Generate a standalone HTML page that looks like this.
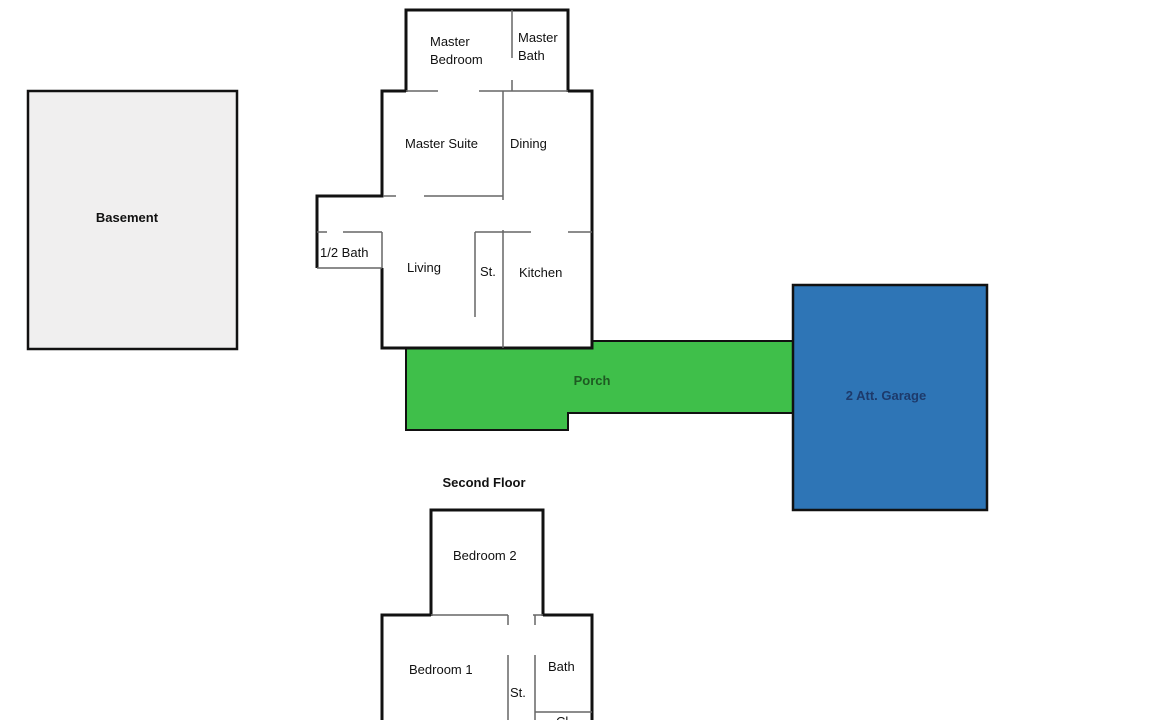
<!DOCTYPE html>
<html><head><meta charset="utf-8"><style>
html,body{margin:0;padding:0;background:#fff;width:1152px;height:720px;overflow:hidden}
svg{display:block}
text{font-family:"Liberation Sans","DejaVu Sans",sans-serif;font-size:13px;fill:#111}
</style></head><body>
<svg width="1152" height="720" viewBox="0 0 1152 720">
<!-- Basement -->
<rect x="28" y="91" width="209" height="258" fill="#f0efef" stroke="#111" stroke-width="2.5"/>
<text x="127" y="222" text-anchor="middle" font-weight="bold" font-size="12">Basement</text>

<!-- Porch -->
<polygon points="406,348 592,348 592,341 793,341 793,413 568,413 568,430 406,430" fill="#3fbf4a" stroke="#111" stroke-width="2"/>
<text x="592" y="385" text-anchor="middle" font-weight="bold" font-size="12" style="fill:#1e5a22">Porch</text>

<!-- Garage -->
<rect x="793" y="285" width="194" height="225" fill="#2e75b6" stroke="#111" stroke-width="2.5"/>
<text x="886" y="400" text-anchor="middle" font-weight="bold" font-size="12" style="fill:#1d3a6b">2 Att. Garage</text>

<!-- Main floor -->
<rect x="382" y="91" width="210" height="257" fill="#fff"/>
<rect x="317" y="196" width="66" height="72" fill="#fff"/>
<rect x="406" y="10" width="162" height="82" fill="#fff"/>
<g fill="none" stroke="#111" stroke-width="3">
<polyline points="406,92 406,10 568,10 568,92"/>
<polyline points="406,91 382,91 382,196 317,196 317,268"/>
<polyline points="568,91 592,91 592,348 382,348 382,268"/>
</g>
<g fill="none" stroke="#666" stroke-width="1.5">
<line x1="406" y1="91" x2="438" y2="91"/><line x1="479" y1="91" x2="568" y2="91"/>
<line x1="512" y1="10" x2="512" y2="58"/><line x1="512" y1="80" x2="512" y2="91"/>
<line x1="503" y1="91" x2="503" y2="200"/>
<line x1="383" y1="196" x2="396" y2="196"/><line x1="424" y1="196" x2="503" y2="196"/>
<line x1="317" y1="232" x2="327" y2="232"/><line x1="343" y1="232" x2="382" y2="232"/>
<line x1="317" y1="268" x2="382" y2="268"/><line x1="382" y1="232" x2="382" y2="268"/>
<line x1="475" y1="232" x2="531" y2="232"/><line x1="568" y1="232" x2="592" y2="232"/>
<line x1="475" y1="232" x2="475" y2="317"/>
<line x1="503" y1="230" x2="503" y2="348"/>
</g>
<text x="430" y="46">Master</text><text x="430" y="64">Bedroom</text>
<text x="518" y="42">Master</text><text x="518" y="60">Bath</text>
<text x="405" y="148">Master Suite</text>
<text x="510" y="148">Dining</text>
<text x="320" y="257">1/2 Bath</text>
<text x="407" y="272">Living</text>
<text x="480" y="276" font-size="12">St.</text>
<text x="519" y="277">Kitchen</text>

<!-- Second floor -->
<text x="484" y="487" text-anchor="middle" font-weight="bold" font-size="14">Second Floor</text>
<g fill="none" stroke="#111" stroke-width="3">
<polyline points="431,616 431,510 543,510 543,616"/>
<polyline points="382,722 382,615 431,615"/>
<polyline points="543,615 592,615 592,722"/>
</g>
<g fill="none" stroke="#666" stroke-width="1.5">
<line x1="431" y1="615" x2="508" y2="615"/><line x1="533" y1="615" x2="543" y2="615"/>
<line x1="508" y1="615" x2="508" y2="625"/><line x1="535" y1="615" x2="535" y2="625"/>
<line x1="508" y1="655" x2="508" y2="720"/><line x1="535" y1="655" x2="535" y2="720"/>
<line x1="535" y1="712" x2="592" y2="712"/>
</g>
<text x="453" y="560">Bedroom 2</text>
<text x="409" y="674">Bedroom 1</text>
<text x="548" y="671">Bath</text>
<text x="510" y="697" font-size="12">St.</text>
<text x="556" y="726" font-size="12">Cl</text>
</svg>
</body></html>
